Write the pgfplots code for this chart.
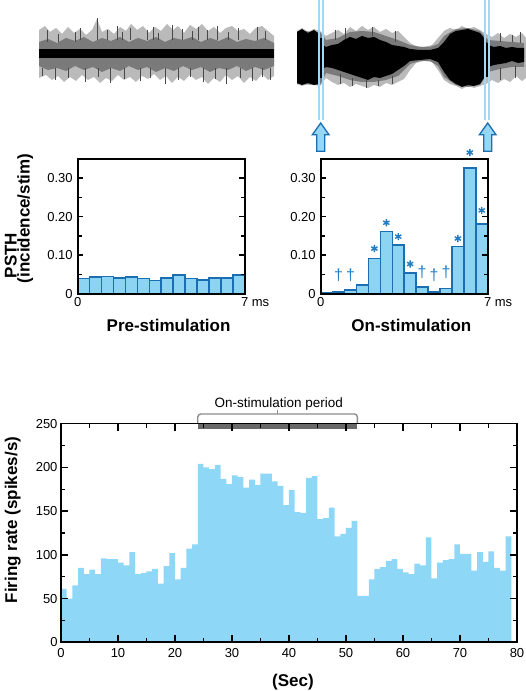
\documentclass[border=0pt]{standalone}
\usepackage{fontspec}
\setmainfont{Liberation Sans}
\usepackage{pgfplots}
\pgfplotsset{compat=1.18}
\definecolor{psthfill}{RGB}{140,212,242}
\definecolor{psthedge}{RGB}{28,110,178}
\definecolor{frbar}{RGB}{143,215,246}
\definecolor{starblue}{RGB}{35,125,195}
\definecolor{stimline}{RGB}{160,216,245}
\definecolor{arrowfill}{RGB}{150,215,245}
\definecolor{stimgray}{RGB}{105,105,105}
\definecolor{bracketgray}{RGB}{140,140,140}
\newcommand{\tickfont}{\fontsize{13bp}{15bp}\selectfont}
\newcommand{\labfont}{\fontsize{17bp}{19bp}\selectfont\bfseries}
\pgfplotsset{
 /pgf/number format/assume math mode=true,
 psth/.style={
  anchor=south west, scale only axis, width=167bp, height=135bp,
  xmin=0,xmax=7,ymin=0,ymax=0.35,
  axis line style={line width=1.8bp},
  tick align=inside, axis on top,
  xtick={0,7}, xticklabels={0,7\rlap{ ms}},
  xtick style={draw=none},
  ytick={0,0.1,0.2,0.3}, yticklabels={0,0.10,0.20,0.30},
  minor ytick={0.05,0.15,0.25},
  ytick style={line width=1.5bp, black},
  major tick length=5.7bp, minor tick length=4bp,
  tick label style={font=\tickfont},
  yticklabel style={xshift=-1.5bp},
  clip=false,
 }
}
\begin{document}
\begin{tikzpicture}
\useasboundingbox (0,0) rectangle (526bp,691bp);
% ---------------- spike traces (pixel coordinates) ----------------
\begin{axis}[at={(0bp,541bp)}, anchor=south west, scale only axis,
  width=526bp, height=150bp, xmin=0, xmax=526, ymin=0, ymax=150,
  y dir=reverse, hide axis, clip=false, unbounded coords=jump]
% left trace outer halo
\addplot[fill=black!27, draw=none] coordinates {
(39,30)(45,26)(50,32)(56,28)(62,34)(68,27)(74,33)(80,29)(86,35)(92,30)(97,19)(102,32)(108,29)(114,34)(120,27)(126,31)(131,24)(137,30)(143,26)(149,33)(155,27)(161,31)(167,24)(173,30)(178,26)(184,33)(190,25)(196,29)(202,24)(208,31)(214,27)(220,33)(226,28)(232,26)(238,31)(244,29)(250,34)(256,28)(262,26)(268,31)(274,36)
(274,76)(268,80)(262,74)(256,81)(250,77)(244,83)(238,76)(232,80)(226,75)(220,82)(214,78)(208,84)(202,77)(196,80)(190,75)(184,81)(178,77)(172,83)(166,76)(160,80)(154,74)(148,79)(142,76)(136,82)(130,77)(124,80)(118,75)(112,81)(106,78)(100,83)(94,77)(88,80)(82,75)(76,81)(70,77)(64,82)(58,76)(52,80)(46,75)(39,78)};
% left trace inner halo
\addplot[fill=black!52, draw=none] coordinates {
(39,42)(48,39)(57,43)(66,38)(75,41)(84,37)(93,42)(102,38)(111,41)(120,37)(129,42)(138,38)(147,41)(156,37)(165,42)(174,38)(183,40)(192,37)(201,42)(210,38)(219,41)(228,37)(237,42)(246,39)(255,41)(264,38)(274,43)
(274,66)(264,70)(255,67)(246,71)(237,66)(228,70)(219,68)(210,72)(201,67)(192,70)(183,66)(174,71)(165,68)(156,72)(147,67)(138,70)(129,66)(120,71)(111,68)(102,72)(93,67)(84,70)(75,66)(66,71)(57,68)(48,70)(39,66)};
% left trace spikes and speckles
\addplot[black!72, line width=1bp] coordinates {
(47,30)(47,42) (48,nan) (58,34)(58,42) (59,nan) (75,32)(75,42) (76,nan) (80,28)(80,40) (81,nan)
(97,18)(97,40) (98,nan) (107,30)(107,40) (108,nan) (117,26)(117,40) (118,nan) (122,32)(122,40) (123,nan)
(130,28)(130,40) (131,nan) (147,30)(147,40) (148,nan) (153,27)(153,40) (154,nan) (158,33)(158,40) (159,nan)
(172,25)(172,40) (173,nan) (182,29)(182,40) (183,nan) (192,31)(192,40) (193,nan) (198,27)(198,40) (199,nan)
(207,30)(207,40) (208,nan) (217,26)(217,40) (218,nan) (228,32)(228,40) (229,nan) (238,28)(238,40) (239,nan)
(257,27)(257,40) (258,nan) (265,31)(265,40) (266,nan)
(42,68)(42,76) (43,nan) (55,68)(55,80) (56,nan) (68,68)(68,78) (69,nan) (85,68)(85,82) (86,nan)
(98,68)(98,77) (99,nan) (110,68)(110,83) (111,nan) (124,68)(124,79) (125,nan) (140,68)(140,81) (141,nan)
(150,68)(150,78) (151,nan) (165,68)(165,84) (166,nan) (178,68)(178,80) (179,nan) (190,68)(190,77) (191,nan)
(203,68)(203,82) (204,nan) (215,68)(215,79) (216,nan) (226,68)(226,84) (227,nan) (240,68)(240,78) (241,nan)
(252,68)(252,81) (253,nan) (262,68)(262,77) (263,nan) (270,68)(270,80)};
% left trace core
\addplot[fill=black, draw=none] coordinates {(39,49.5)(274,49.5)(274,58.5)(39,58.5)};
% right trace outer halo
\addplot[fill=black!27, draw=none] coordinates {
(297,31)(302,28)(308,32)(314,29)(320,31)(326,36)(332,33)(338,30)(344,34)(350,27)(356,31)(362,26)(368,30)(374,27)(380,32)(386,29)(392,33)(398,31)(404,37)(410,43)(416,46)(424,47)(432,45)(438,38)(444,31)(450,28)(456,30)(462,26)(468,29)(474,27)(480,30)(486,34)(492,37)(498,33)(504,38)(510,34)(516,37)(522,33)(526,38)
(526,78)(522,81)(516,76)(510,82)(504,79)(498,83)(492,80)(486,84)(480,86)(474,88)(468,86)(462,89)(456,86)(450,84)(444,80)(438,70)(432,62)(424,61)(416,63)(410,70)(404,79)(398,82)(392,85)(386,83)(380,87)(374,85)(368,88)(362,86)(356,84)(350,87)(344,83)(338,85)(332,82)(326,78)(320,86)(314,85)(308,84)(302,86)(297,84)};
% right trace inner halo
\addplot[fill=black!52, draw=none] coordinates {
(297,31)(320,32)(326,40)(338,38)(350,32)(362,31)(374,32)(386,36)(398,40)(410,45)(420,47)(430,47)(438,44)(444,36)(456,29)(468,28)(480,31)(488,40)(500,41)(512,42)(524,43)
(524,67)(512,67)(500,69)(488,72)(480,85)(468,87)(456,85)(444,77)(438,66)(430,61)(420,61)(410,64)(398,76)(386,80)(374,82)(362,82)(350,80)(338,76)(326,73)(320,85)(297,84)};
% right trace spikes
\addplot[black!72, line width=1bp] coordinates {
(335,30)(335,40) (336,nan) (345,28)(345,40) (346,nan) (372,27)(372,36) (373,nan)
(395,31)(395,42) (396,nan) (500,33)(500,42) (501,nan) (512,35)(512,42) (513,nan) (520,32)(520,43) (521,nan)
(340,74)(340,84) (341,nan) (352,78)(352,86) (353,nan) (366,80)(366,88) (367,nan) (378,80)(378,86) (379,nan)
(392,76)(392,84) (393,nan) (500,68)(500,80) (501,nan) (515,66)(515,78)};
% right trace core
\addplot[fill=black, draw=none] coordinates {
(297,32)(302,29)(308,33)(314,30)(318,33)(321,44)(326,47)(332,45)(338,44)(344,40)(350,37)(356,39)(362,36)(368,38)(374,37)(380,40)(386,42)(392,45)(398,46)(404,47)(410,49)(420,50)(430,50)(438,48)(444,42)(450,34)(456,31)(462,30)(468,29)(474,31)(480,33)(484,38)(488,45)(494,47)(500,46)(506,48)(512,47)(518,48)(524,48)
(524,62)(518,63)(512,61)(506,63)(500,64)(494,65)(488,67)(484,78)(480,84)(474,86)(468,85)(462,87)(456,84)(450,80)(444,72)(438,62)(430,59)(420,60)(410,61)(404,66)(398,70)(392,74)(386,76)(380,78)(374,77)(368,80)(362,78)(356,76)(350,74)(344,72)(338,70)(332,68)(326,67)(321,70)(318,84)(314,85)(308,83)(302,85)(297,83)};
% stimulation markers
\addplot[stimline, line width=1.6bp] coordinates {(319,0)(319,120)};
\addplot[stimline, line width=1.6bp] coordinates {(322.8,0)(322.8,120)};
\addplot[stimline, line width=1.6bp] coordinates {(485.2,0)(485.2,120)};
\addplot[stimline, line width=1.6bp] coordinates {(488.8,0)(488.8,120)};
\addplot[black, line width=1.4bp] coordinates {(320.9,38)(320.9,78)};
\addplot[black, line width=1.4bp] coordinates {(487,43)(487,77)};
\end{axis}
% ---------------- PSTH pre-stimulation ----------------
\begin{axis}[psth, at={(77.7bp,397.3bp)}]
\addplot[ybar interval, fill=psthfill, draw=psthedge, line width=1.5bp] coordinates {
(0,0.040)(0.5,0.043)(1,0.045)(1.5,0.041)(2,0.043)(2.5,0.040)(3,0.034)(3.5,0.041)(4,0.048)(4.5,0.040)(5,0.036)(5.5,0.041)(6,0.041)(6.5,0.048)(7,0.048)};
\node[rotate=90, anchor=base west, font=\labfont] at (rel axis cs:-0.3653,0.0889) {PSTH};
\node[rotate=90, anchor=base west, font=\labfont] at (rel axis cs:-0.2886,0.0519) {(incidence/stim)};
\node[anchor=base, font=\labfont] at (rel axis cs:0.544,-0.278) {Pre-stimulation};
\end{axis}
% ---------------- PSTH on-stimulation ----------------
\begin{axis}[psth, at={(320.7bp,397.3bp)}]
\addplot[ybar interval, fill=psthfill, draw=psthedge, line width=1.5bp] coordinates {
(0,0.002)(0.5,0.004)(1,0.009)(1.5,0.023)(2,0.091)(2.5,0.161)(3,0.126)(3.5,0.054)(4,0.017)(4.5,0.004)(5,0.013)(5.5,0.122)(6,0.326)(6.5,0.181)(7,0.181)};
\addplot[only marks, mark=asterisk, mark size=3.6bp, starblue, mark options={line width=1.4bp}] coordinates {
(2.25,0.117)(2.75,0.184)(3.25,0.148)(3.75,0.077)(5.75,0.143)(6.25,0.366)(6.75,0.216)};
\addplot[draw=none, mark=none, nodes near coords={\pgfplotspointmeta}, point meta=explicit symbolic,
  every node near coord/.append style={anchor=center, inner sep=0pt, font=\fontsize{16bp}{16bp}\selectfont, text=starblue}] coordinates {
(0.75,0.047)[†] (1.25,0.047)[†] (4.25,0.055)[†] (4.75,0.049)[†] (5.25,0.055)[†]};
\node[anchor=base, font=\labfont] at (rel axis cs:0.543,-0.278) {On-stimulation};
\draw[psthedge, fill=arrowfill, line width=1.3bp, line join=miter]
 ([shift={(-4bp,7.5bp)}]axis cs:0,0.35) -- ++(0,16.5bp) -- ++(-4.3bp,0) -- ++(8.3bp,11.7bp) -- ++(8.3bp,-11.7bp) -- ++(-4.3bp,0) -- ++(0,-16.5bp) -- cycle;
\draw[psthedge, fill=arrowfill, line width=1.3bp, line join=miter]
 ([shift={(-4bp,7.5bp)}]axis cs:7,0.35) -- ++(0,16.5bp) -- ++(-4.3bp,0) -- ++(8.3bp,11.7bp) -- ++(8.3bp,-11.7bp) -- ++(-4.3bp,0) -- ++(0,-16.5bp) -- cycle;
\end{axis}
% ---------------- firing rate ----------------
\begin{axis}[at={(61bp,48.7bp)}, anchor=south west, scale only axis,
  width=456bp, height=218.6bp, xmin=0, xmax=80, ymin=0, ymax=250,
  xtick={0,10,...,80}, ytick={0,50,...,250}, minor x tick num=1, minor y tick num=1,
  tick align=inside, major tick length=7bp, minor tick length=4bp,
  tick style={line width=1.5bp, black}, axis line style={line width=1.6bp},
  tick label style={font=\tickfont}, xticklabel style={yshift=-3bp},
  clip=false, axis on top]
\addplot[const plot mark left, fill=frbar, draw=none] coordinates {
(0,61)(1,50)(2,65)(3,85)(4,78)(5,83)(6,78)(7,96)(8,95)(9,95)(10,91)(11,88)(12,103)(13,78)(14,79)(15,81)(16,84)(17,67)(18,87)(19,102)(20,72)(21,85)(22,107)(23,112)(24,204)(25,200)(26,198)(27,203)(28,187)(29,181)(30,191)(31,189)(32,177)(33,186)(34,180)(35,193)(36,193)(37,184)(38,179)(39,157)(40,174)(41,149)(42,148)(43,188)(44,190)(45,141)(46,142)(47,154)(48,121)(49,124)(50,131)(51,139)(52,53)(53,53)(54,72)(55,84)(56,86)(57,93)(58,95)(59,84)(60,80)(61,78)(62,90)(63,88)(64,120)(65,73)(66,91)(67,94)(68,95)(69,112)(70,101)(71,101)(72,82)(73,103)(74,92)(75,104)(76,85)(77,82)(78,121)(79,121)} \closedcycle;
\fill[stimgray] (axis cs:24,250) rectangle ([yshift=-5.6bp]axis cs:52,250);
\draw[bracketgray, line width=1.4bp, rounded corners=3bp] (axis cs:24,250) -- ([yshift=9.7bp]axis cs:24,250) -- ([yshift=9.7bp]axis cs:52,250) -- (axis cs:52,250);
\draw[bracketgray, line width=1.4bp] ([yshift=9.7bp]axis cs:38,250) -- ++(0,3.5bp);
\node[anchor=base, font=\fontsize{13.5bp}{15bp}\selectfont] at ([yshift=15.7bp]axis cs:38.2,250) {On-stimulation period};
\node[rotate=90, anchor=base, font=\labfont] at (rel axis cs:-0.096,0.5595) {Firing rate (spikes/s)};
\node[anchor=base, font=\labfont] at (rel axis cs:0.5088,-0.2022) {(Sec)};
\end{axis}
\end{tikzpicture}
\end{document}
